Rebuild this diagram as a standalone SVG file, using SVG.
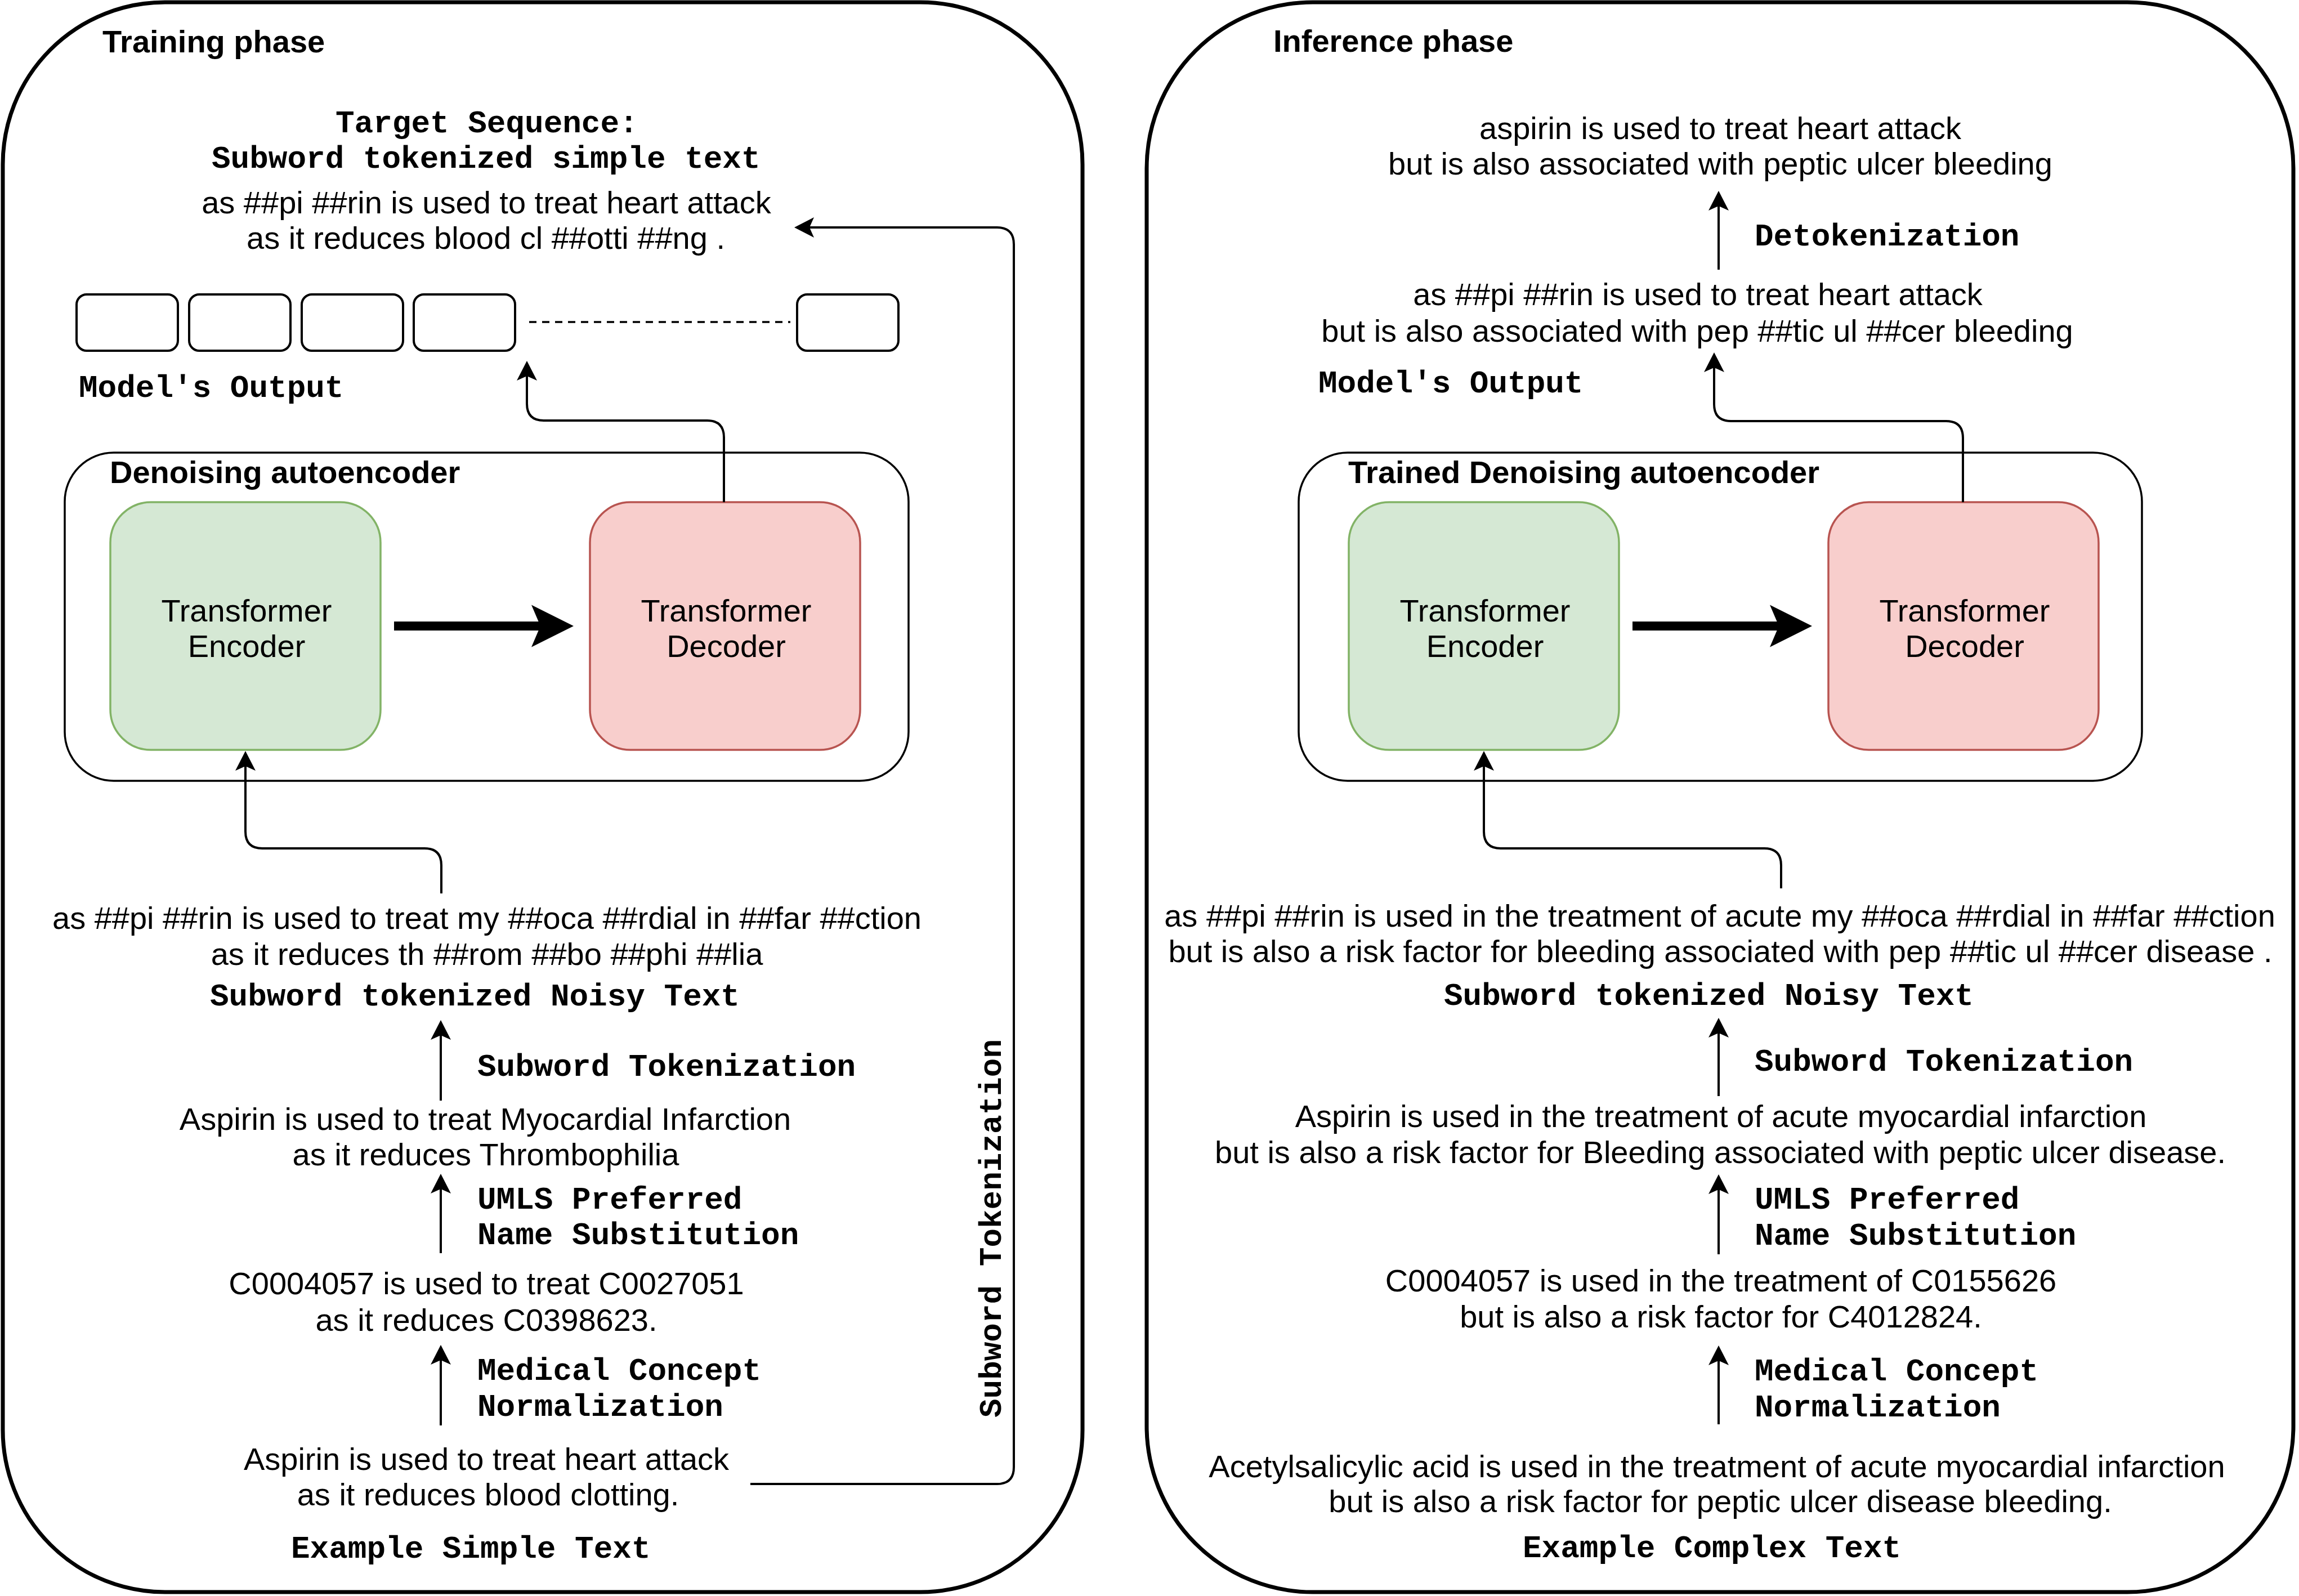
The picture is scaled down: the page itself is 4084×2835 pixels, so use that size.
<svg xmlns="http://www.w3.org/2000/svg" width="4084" height="2835" viewBox="0 0 4084 2835">
<style>
.t{font-family:"Liberation Sans",Arial,sans-serif;font-size:56px;fill:#000}
.c{text-anchor:middle}
.b{font-family:"Liberation Sans",Arial,sans-serif;font-size:56px;font-weight:bold;fill:#000}
.m{font-family:"Liberation Mono","Courier New",monospace;font-size:56px;font-weight:bold;fill:#000}
.outer{fill:none;stroke:#000;stroke-width:7}
.inner{fill:none;stroke:#000;stroke-width:3.5}
.tok{fill:#fff;stroke:#000;stroke-width:4}
.enc{fill:#d5e8d4;stroke:#82b366;stroke-width:3.5}
.dec{fill:#f8cecc;stroke:#b85450;stroke-width:3.5}
.ln{fill:none;stroke:#000;stroke-width:4}
.thick{fill:none;stroke:#000;stroke-width:16}
</style>
<defs>
<marker id="ah" markerUnits="userSpaceOnUse" viewBox="-40 -20 45 40" markerWidth="45" markerHeight="40" refX="-27" refY="0" orient="auto">
<path d="M0,0 L-35,-18 L-27,0 L-35,18 Z" fill="#000"/>
</marker>
<marker id="big" markerUnits="userSpaceOnUse" viewBox="-80 -40 85 80" markerWidth="85" markerHeight="80" refX="-59" refY="0" orient="auto">
<path d="M0,0 L-75,-37.5 L-59,0 L-75,37.5 Z" fill="#000"/>
</marker>
</defs>
<rect width="4084" height="2835" fill="#fff"/>

<g id="training-phase">
<rect class="outer" x="5" y="4" width="1918" height="2824" rx="288" ry="288"/>
<text class="b" x="182" y="93">Training phase</text>
</g>

<g id="inference-phase">
<rect class="outer" x="2037" y="4" width="2037" height="2824" rx="295" ry="295"/>
<text class="b" x="2262" y="92">Inference phase</text>
</g>

<g id="target-sequence">
<text class="m" x="596" y="235">Target Sequence:</text>
<text class="m" x="376" y="298">Subword tokenized simple text</text>
<text class="t c" x="864" y="379">as ##pi ##rin is used to treat heart attack</text>
<text class="t c" x="863" y="442">as it reduces blood cl ##otti ##ng .</text>
</g>

<g id="model-output-left">
<rect class="tok" x="136" y="523" width="180" height="100" rx="18"/>
<rect class="tok" x="336" y="523" width="180" height="100" rx="18"/>
<rect class="tok" x="536" y="523" width="180" height="100" rx="18"/>
<rect class="tok" x="735" y="523" width="180" height="100" rx="18"/>
<rect class="tok" x="1416" y="523" width="180" height="100" rx="18"/>
<line x1="940" y1="572" x2="1404" y2="572" stroke="#000" stroke-width="3.5" stroke-dasharray="13 10"/>
<text class="m" x="140" y="705">Model's Output</text>
</g>

<g id="denoising-autoencoder">
<rect class="inner" x="115" y="804" width="1499" height="583" rx="87" ry="87"/>
<text class="b" x="195" y="858">Denoising autoencoder</text>
</g>
<g id="encoder-left">
<rect class="enc" x="196" y="892" width="480" height="440" rx="72" ry="72"/>
<text class="t c" x="438" y="1104">Transformer</text>
<text class="t c" x="438" y="1167">Encoder</text>
</g>
<g id="decoder-left">
<rect class="dec" x="1048" y="892" width="480" height="440" rx="72" ry="72"/>
<text class="t c" x="1290" y="1104">Transformer</text>
<text class="t c" x="1290" y="1167">Decoder</text>
</g>

<g id="noisy-left">
<text class="t c" x="865" y="1650">as ##pi ##rin is used to treat my ##oca ##rdial in ##far ##ction</text>
<text class="t c" x="865" y="1714">as it reduces th ##rom ##bo ##phi ##lia</text>
<text class="m" x="373" y="1786">Subword tokenized Noisy Text</text>
</g>
<g id="umls-left">
<text class="t c" x="862" y="2007">Aspirin is used to treat Myocardial Infarction</text>
<text class="t c" x="863" y="2070">as it reduces Thrombophilia</text>
</g>
<g id="cui-left">
<text class="t c" x="864" y="2299">C0004057 is used to treat C0027051</text>
<text class="t c" x="864" y="2364">as it reduces C0398623.</text>
</g>
<g id="simple-text">
<text class="t c" x="864" y="2611">Aspirin is used to treat heart attack</text>
<text class="t c" x="867" y="2674">as it reduces blood clotting.</text>
<text class="m" x="517" y="2767">Example Simple Text</text>
</g>

<g id="inference-output">
<text class="t c" x="3056" y="247">aspirin is used to treat heart attack</text>
<text class="t c" x="3056" y="310">but is also associated with peptic ulcer bleeding</text>
</g>
<g id="model-output-right">
<text class="t c" x="3016" y="542">as ##pi ##rin is used to treat heart attack</text>
<text class="t c" x="3015" y="607">but is also associated with pep ##tic ul ##cer bleeding</text>
<text class="m" x="2342" y="697">Model's Output</text>
</g>
<g id="trained-autoencoder">
<rect class="inner" x="2307" y="804" width="1498" height="583" rx="87" ry="87"/>
<text class="b" x="2395" y="858">Trained Denoising autoencoder</text>
</g>
<g id="encoder-right">
<rect class="enc" x="2396" y="892" width="480" height="440" rx="72" ry="72"/>
<text class="t c" x="2638" y="1104">Transformer</text>
<text class="t c" x="2638" y="1167">Encoder</text>
</g>
<g id="decoder-right">
<rect class="dec" x="3248" y="892" width="480" height="440" rx="72" ry="72"/>
<text class="t c" x="3490" y="1104">Transformer</text>
<text class="t c" x="3490" y="1167">Decoder</text>
</g>
<g id="noisy-right">
<text class="t c" x="3055" y="1646">as ##pi ##rin is used in the treatment of acute my ##oca ##rdial in ##far ##ction</text>
<text class="t c" x="3056" y="1709">but is also a risk factor for bleeding associated with pep ##tic ul ##cer disease .</text>
<text class="m" x="2565" y="1785">Subword tokenized Noisy Text</text>
</g>
<g id="umls-right">
<text class="t c" x="3057" y="2002">Aspirin is used in the treatment of acute myocardial infarction</text>
<text class="t c" x="3056" y="2066">but is also a risk factor for Bleeding associated with peptic ulcer disease.</text>
</g>
<g id="cui-right">
<text class="t c" x="3057" y="2294">C0004057 is used in the treatment of C0155626</text>
<text class="t c" x="3057" y="2358">but is also a risk factor for C4012824.</text>
</g>
<g id="complex-text">
<text class="t c" x="3050" y="2624">Acetylsalicylic acid is used in the treatment of acute myocardial infarction</text>
<text class="t c" x="3056" y="2686">but is also a risk factor for peptic ulcer disease bleeding.</text>
<text class="m" x="2705" y="2766">Example Complex Text</text>
</g>

<g id="connectors">
<path class="ln" marker-end="url(#ah)" d="M784,1587 V1537 Q784,1507 754,1507 H466 Q436,1507 436,1477 V1361"/>
<path class="ln" marker-end="url(#ah)" d="M1286,892 V777 Q1286,747 1256,747 H966 Q936,747 936,717 V668"/>
<path class="ln" marker-end="url(#ah)" d="M1333,2636 H1771 Q1801,2636 1801,2606 V434 Q1801,404 1771,404 H1438"/>
<path class="ln" marker-end="url(#ah)" d="M783,1955 V1839"/>
<path class="ln" marker-end="url(#ah)" d="M783,2226 V2112"/>
<path class="ln" marker-end="url(#ah)" d="M783,2532 V2416"/>
<path class="thick" marker-end="url(#big)" d="M700,1112 H960"/>
<path class="ln" marker-end="url(#ah)" d="M3164,1578 V1537 Q3164,1507 3134,1507 H2666 Q2636,1507 2636,1477 V1361"/>
<path class="ln" marker-end="url(#ah)" d="M3487,892 V778 Q3487,748 3457,748 H3075 Q3045,748 3045,718 V653"/>
<path class="ln" marker-end="url(#ah)" d="M3053,479 V366"/>
<path class="ln" marker-end="url(#ah)" d="M3053,1947 V1835"/>
<path class="ln" marker-end="url(#ah)" d="M3053,2228 V2113"/>
<path class="ln" marker-end="url(#ah)" d="M3053,2530 V2417"/>
<path class="thick" marker-end="url(#big)" d="M2900,1112 H3160"/>
</g>

<g id="step-labels">
<text class="m" x="848" y="1911">Subword Tokenization</text>
<text class="m" x="848" y="2147">UMLS Preferred</text>
<text class="m" x="848" y="2210">Name Substitution</text>
<text class="m" x="848" y="2451">Medical Concept</text>
<text class="m" x="848" y="2515">Normalization</text>
<text class="m" transform="translate(1778,2182) rotate(-90)" text-anchor="middle">Subword Tokenization</text>
<text class="m" x="3117" y="436">Detokenization</text>
<text class="m" x="3117" y="1902">Subword Tokenization</text>
<text class="m" x="3117" y="2147">UMLS Preferred</text>
<text class="m" x="3117" y="2211">Name Substitution</text>
<text class="m" x="3117" y="2452">Medical Concept</text>
<text class="m" x="3117" y="2516">Normalization</text>
</g>
</svg>
